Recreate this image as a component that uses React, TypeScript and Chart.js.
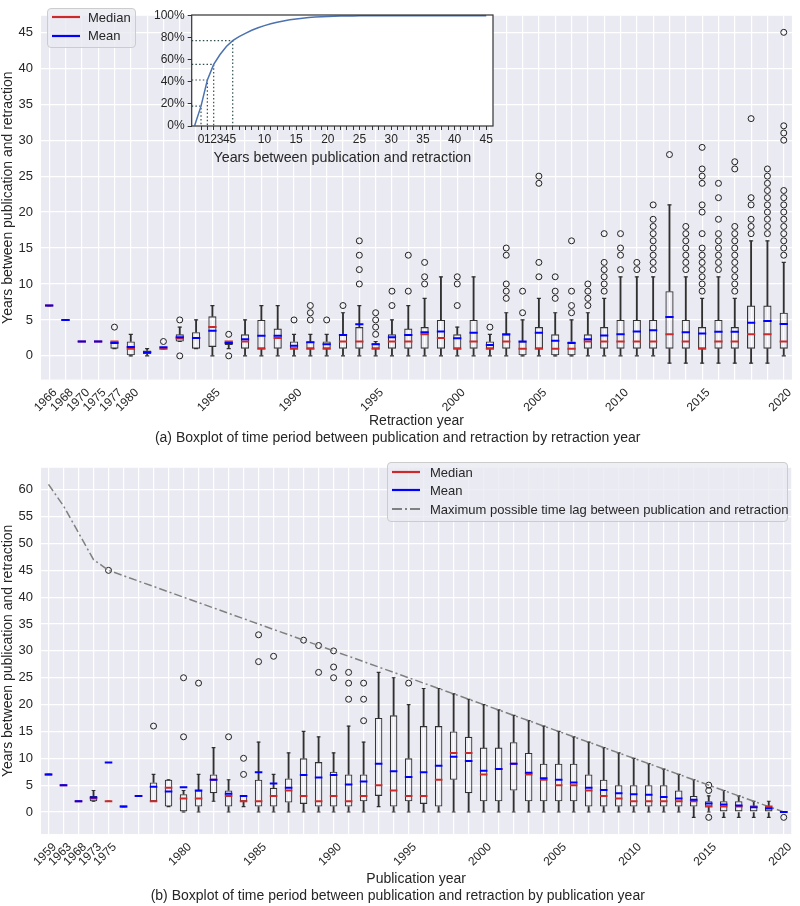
import React, { useEffect, useRef } from "react";
import { Chart, registerables } from "chart.js";

Chart.register(...registerables);

const FONT = "'Liberation Sans', Arial, Helvetica, sans-serif";
const TEXT = "#262626";
const MEDIAN_COLOR = "#cc2a2a";
const MEAN_COLOR = "#0000ff";
const BOX_COLOR = "#303030";
const MAXLAG_COLOR = "#808080";

// ---------------- (a) by retraction year ----------------
const retYears = [
  "1966", "1968", "1970", "1975", "1977", "1980", "1981", "1982", "1983", "1984",
  "1985", "1986", "1987", "1988", "1989", "1990", "1991", "1992", "1993", "1994",
  "1995", "1996", "1997", "1998", "1999", "2000", "2001", "2002", "2003", "2004",
  "2005", "2006", "2007", "2008", "2009", "2010", "2011", "2012", "2013", "2014",
  "2015", "2016", "2017", "2018", "2019", "2020",
];
const retTickLabels = [
  "1966", "1968", "1970", "1975", "1977", "1980", "1985", "1990", "1995", "2000",
  "2005", "2010", "2015", "2020",
];
const retLow = [
  7, 5, 2, 2, 1, 0, 0, 1, 2, 1,
  0, 1, 0, 0, 0, 0, 0, 0, 0, 0,
  0, 0, 0, 0, 0, 0, 0, 0, 0, 0,
  0, 0, 0, 0, 0, 0, 0, 0, -1, -1,
  -1, -1, -1, -1, -1, 0,
];
const retQ1 = [
  7, 5, 2, 2, 1, 0, 0.25, 1, 2, 1,
  1.25, 1.5, 1, 1, 1, 1, 1, 1, 1, 1,
  1, 1, 1, 1, 1, 1, 1, 1, 1, 0,
  1, 0, 0, 1, 1, 1, 1, 1, 1, 1,
  1, 1, 1, 1, 1, 1,
];
const retMedian = [
  7, 5, 2, 2, 2, 1, 0.5, 1, 2.4, 2.5,
  4, 2, 2, 1, 2.5, 1, 1, 1, 2, 2,
  1, 2, 2, 3, 2.5, 1, 2, 1, 2, 1,
  1, 1, 1, 2, 2, 2, 2, 2, 3, 2,
  1, 2, 2, 3, 3, 2,
];
const retQ3 = [
  7, 5, 2, 2, 2, 2, 0.75, 1, 3, 3.3,
  5.5, 2, 3, 5, 3.8, 2, 2, 2, 3, 4,
  1.75, 3, 3.8, 4, 5, 3, 5, 2, 3, 2,
  4, 3, 2, 3, 4, 5, 5, 5, 9, 5,
  4, 5, 4, 7, 7, 6,
];
const retHigh = [
  7, 5, 2, 2, 2, 3, 1, 1, 4, 5,
  7, 2, 5, 7, 7, 3, 3, 3, 6, 7,
  2, 5, 7, 8, 11, 4, 11, 3, 6, 5,
  8, 6, 5, 6, 8, 11, 11, 11, 21, 11,
  8, 11, 8, 16, 16, 13,
];
const retMean = [
  7, 5, 2, 2, 1.8, 1.25, 0.5, 1.2, 2.6, 2.5,
  3.5, 1.8, 2.3, 2.8, 2.8, 1.4, 1.9, 1.6, 2.9, 4.4,
  1.6, 2.6, 2.9, 3.3, 3.4, 2.45, 3.2, 1.5, 3.0, 2.0,
  3.2, 2.1, 1.8, 2.3, 2.85, 3.0, 3.4, 3.55, 5.4, 3.3,
  3.1, 3.35, 3.35, 4.6, 4.85, 4.45,
];
const retOutliers: number[][] = [
  [], [], [], [], [4], [], [], [2], [5, 0], [],
  [], [3, 0], [], [], [], [5], [5, 6, 7], [5], [7], [10, 12, 14, 16],
  [3, 4, 5, 6], [7, 9], [9, 14], [10, 11, 13], [], [7, 10, 11], [], [4], [8, 9, 10, 14, 15], [6, 9],
  [11, 13, 24, 25], [8, 9, 11], [6, 7, 9, 16], [7, 8, 9, 10], [9, 10, 11, 12, 13, 17],
  [12, 14, 15, 17], [12, 13], [12, 13, 14, 15, 16, 17, 18, 19, 21], [28], [12, 13, 14, 15, 16, 17, 18],
  [9, 10, 11, 12, 13, 14, 15, 17, 20, 21, 24, 25, 26, 29],
  [12, 13, 14, 15, 16, 17, 19, 22, 24],
  [9, 10, 11, 12, 13, 14, 15, 16, 17, 18, 26, 27],
  [17, 18, 19, 21, 22, 33],
  [17, 18, 19, 20, 21, 22, 23, 24, 25, 26],
  [14, 15, 16, 17, 18, 19, 20, 21, 22, 23, 30, 31, 32, 45],
];

// ---------------- inset: cumulative share ----------------
const cdfYears = [
  -1, 0, 1, 2, 3, 4, 5, 6, 7, 8, 9, 10, 11, 12, 13, 14, 15, 16, 17, 18, 19, 20,
  21, 22, 23, 24, 25, 26, 27, 28, 29, 30, 31, 32, 33, 34, 35, 36, 37, 38, 39, 40,
  41, 42, 43, 44, 45,
];
const cdfShare = [
  0.004, 0.18, 0.417, 0.558, 0.648, 0.72, 0.773, 0.81, 0.84, 0.868, 0.89, 0.91,
  0.926, 0.94, 0.952, 0.962, 0.97, 0.977, 0.983, 0.987, 0.99, 0.993,
  0.995, 0.996, 0.997, 0.998, 0.9985, 0.999, 0.999, 0.9992, 0.9994, 0.9995, 0.9996, 0.9997, 0.9998, 0.9998, 0.9999, 0.9999, 0.9999, 1, 1, 1,
  1, 1, 1, 1, 1,
];
const refYears = [0, 1, 2, 5];
const insetTickLabels = [0, 1, 2, 3, 4, 5, 10, 15, 20, 25, 30, 35, 40, 45];

// ---------------- (b) by publication year ----------------
const pubYears = [
  "1959", "1963", "1968", "1973", "1975", "1976", "1977", "1978", "1979", "1980",
  "1981", "1982", "1983", "1984", "1985", "1986", "1987", "1988", "1989", "1990",
  "1991", "1992", "1993", "1994", "1995", "1996", "1997", "1998", "1999", "2000",
  "2001", "2002", "2003", "2004", "2005", "2006", "2007", "2008", "2009", "2010",
  "2011", "2012", "2013", "2014", "2015", "2016", "2017", "2018", "2019", "2020",
];
const pubTickLabels = [
  "1959", "1963", "1968", "1973", "1975", "1980", "1985", "1990", "1995", "2000",
  "2005", "2010", "2015", "2020",
];
const pubLow = [
  7, 5, 2, 2, 2, 1, 3, 2, 1, 0,
  0, 2, 0, 1, 0, 0, 0, 0, 0, 0,
  0, 0, 1, 0, 0, 0, 0, 0, 0, 0,
  0, 0, 0, 0, 0, 0, 0, 0, 0, 0,
  0, 0, 0, -1, 0, -1, -1, -1, -1, 0,
];
const pubQ1 = [
  7, 5, 2, 2, 2, 1, 3, 2, 1, 0,
  1, 3.5, 1, 2, 1, 1, 1.75, 1.5, 1, 1,
  1, 2, 3, 1, 2, 1.5, 1, 6, 3.5, 2,
  2, 4, 2, 2, 2, 2, 1, 1, 1, 1,
  1, 1, 1, 1, 1, 0, 0, 0, 0, 0,
];
const pubMedian = [
  7, 5, 2, 2.5, 2, 1, 3, 2, 4.5, 2.5,
  2.5, 6, 3, 2, 2, 3, 4, 3, 2, 3,
  2, 3, 5, 4, 3, 3, 6, 11, 11, 7,
  8, 9, 7, 6, 5, 5, 4, 3, 2.5, 2,
  2, 2, 2, 2, 1, 1, 1, 1, 1, 0,
];
const pubQ3 = [
  7, 5, 2, 3, 2, 1, 3, 5.5, 6, 3.3,
  4, 7, 4, 3, 6, 4.5, 6.25, 10, 9.3, 7.5,
  7, 7, 17.5, 18, 10, 16, 16, 15, 14, 12,
  12, 13, 11, 9, 9, 9, 7, 6, 5, 5,
  5, 5, 4, 3, 2, 2, 2, 1, 1, 0,
];
const pubHigh = [
  7, 5, 2, 4, 2, 1, 3, 7, 6, 4,
  7, 12, 6, 3, 13, 7, 11, 15, 14, 11,
  16, 13, 26, 25, 20, 23, 23, 22, 21, 20,
  19, 18, 17, 16, 15, 14, 13, 12, 11, 10,
  9, 8, 7, 6, 3, 4, 3, 2, 2, 0,
];
const pubMean = [
  7, 5, 2, 2.7, 9.2, 1, 3, 4.7, 3.8, 4.6,
  4, 6, 3.4, 3, 7.4, 5.3, 4.5, 6.9, 6.4, 6.9,
  5.1, 5.7, 9, 7.6, 6.5, 7.4, 8.6, 10.3, 9.5, 7.7,
  8, 9, 7.3, 6.3, 6, 5.5, 4.5, 4.1, 3.5, 3.3,
  3.2, 2.8, 2.5, 2.3, 1.6, 1.4, 1.2, 0.9, 0.65, 0,
];
const pubOutliers: number[][] = [
  [], [], [], [], [45], [], [], [16], [], [14, 25],
  [24], [], [14], [7, 10], [28, 33], [29], [], [32], [26, 31], [25, 27, 30],
  [21, 24, 26], [17, 21, 24], [], [], [24], [], [], [], [], [],
  [], [], [], [], [], [], [], [], [], [],
  [], [], [], [], [-1, 4, 5], [], [], [], [], [-1],
];
const pubMaxLag = [
  61, 57, 52, 47, 45, 44, 43, 42, 41, 40,
  39, 38, 37, 36, 35, 34, 33, 32, 31, 30,
  29, 28, 27, 26, 25, 24, 23, 22, 21, 20,
  19, 18, 17, 16, 15, 14, 13, 12, 11, 10,
  9, 8, 7, 6, 5, 4, 3, 2, 1, 0,
];

const yTicksA = [0, 5, 10, 15, 20, 25, 30, 35, 40, 45];
const yTicksB = [0, 5, 10, 15, 20, 25, 30, 35, 40, 45, 50, 55, 60];

// --------------- plugins ---------------
const areaBg = {
  id: "areaBg",
  beforeDraw(chart: any, _a: any, opts: any) {
    const { ctx, chartArea: a } = chart;
    ctx.save();
    ctx.fillStyle = opts.color || "#eaeaf2";
    ctx.fillRect(a.left, a.top, a.right - a.left, a.bottom - a.top);
    ctx.restore();
  },
  afterDraw(chart: any, _a: any, opts: any) {
    if (!opts.border) return;
    const { ctx, chartArea: a } = chart;
    ctx.save();
    ctx.strokeStyle = opts.border;
    ctx.lineWidth = 1.2;
    ctx.strokeRect(a.left, a.top, a.right - a.left, a.bottom - a.top);
    ctx.restore();
  },
};

function boxDatasets(
  labels: string[], lo: number[], q1: number[], med: number[], q3: number[],
  hi: number[], mean: number[], outl: number[][], half: number,
) {
  const outPts: any[] = [];
  outl.forEach((arr, i) => arr.forEach((y) => outPts.push({ x: labels[i], y })));
  return [
    {
      type: "bar", data: lo.map((v, i) => [v, q1[i]]), backgroundColor: BOX_COLOR,
      barThickness: 1.2, grouped: false, borderWidth: 0, order: 7,
    },
    {
      type: "bar", data: q3.map((v, i) => [v, hi[i]]), backgroundColor: BOX_COLOR,
      barThickness: 1.2, grouped: false, borderWidth: 0, order: 7,
    },
    {
      type: "bar", data: q1.map((v, i) => [v, q3[i]]), backgroundColor: "rgba(0,0,0,0)",
      borderColor: BOX_COLOR, borderWidth: 1.1, borderSkipped: false, grouped: false,
      barPercentage: 0.5, categoryPercentage: 1, order: 6,
    },
    {
      type: "line", data: lo, showLine: false, pointStyle: "line", pointRadius: half / 2,
      pointBorderColor: BOX_COLOR, pointBorderWidth: 1.2, order: 5,
    },
    {
      type: "line", data: hi, showLine: false, pointStyle: "line", pointRadius: half / 2,
      pointBorderColor: BOX_COLOR, pointBorderWidth: 1.2, order: 5,
    },
    {
      type: "line", data: outPts, showLine: false, pointStyle: "circle", pointRadius: 3,
      pointBorderColor: "#222", pointBackgroundColor: "rgba(0,0,0,0)", pointBorderWidth: 1, order: 3,
    },
    {
      type: "line", data: med, showLine: false, pointStyle: "line", pointRadius: half,
      pointBorderColor: MEDIAN_COLOR, pointBorderWidth: 2, order: 1,
    },
    {
      type: "line", data: mean, showLine: false, pointStyle: "line", pointRadius: half,
      pointBorderColor: MEAN_COLOR, pointBorderWidth: 2, order: 0,
    },
  ];
}

function mainConfig(cfg: any): any {
  return {
    type: "bar",
    data: { labels: cfg.labels, datasets: cfg.datasets },
    plugins: [areaBg],
    options: {
      responsive: false,
      animation: false,
      events: [],
      layout: { padding: cfg.padding },
      plugins: {
        legend: { display: false },
        tooltip: { enabled: false },
        areaBg: { color: "#eaeaf2" },
        title: {
          display: true, position: "bottom", text: cfg.caption, color: TEXT,
          font: { family: FONT, size: 14, weight: "normal" }, padding: cfg.captionPad,
        },
      },
      scales: {
        x: {
          type: "category", offset: true,
          grid: { color: "#ffffff", lineWidth: 1.2, offset: false, drawTicks: false },
          border: { display: false },
          ticks: {
            autoSkip: false, minRotation: 45, maxRotation: 45, padding: 6, labelOffset: 6,
            color: TEXT, font: { family: FONT, size: 12 },
            callback: (_v: any, i: number) =>
              cfg.shown.includes(cfg.labels[i]) ? cfg.labels[i] : "",
          },
          title: {
            display: true, text: cfg.xTitle, color: TEXT,
            font: { family: FONT, size: 14 }, padding: { top: 0, bottom: 0 },
          },
          afterFit: (s: any) => { s.height = cfg.xHeight; },
        },
        y: {
          min: cfg.yMin, max: cfg.yMax,
          grid: { color: "#ffffff", lineWidth: 1.2, drawTicks: false },
          border: { display: false },
          ticks: { padding: 8, color: TEXT, font: { family: FONT, size: 13 } },
          afterBuildTicks: (s: any) => { s.ticks = cfg.yTicks.map((v: number) => ({ value: v })); },
          title: {
            display: true, text: "Years between publication and retraction", color: TEXT,
            font: { family: FONT, size: 14 }, padding: { top: 0, bottom: 0 },
          },
          afterFit: (s: any) => { s.width = 41; },
        },
      },
    },
  };
}

function ChartCanvas({ left, top, width, height, make }: any) {
  const ref = useRef<HTMLCanvasElement>(null);
  useEffect(() => {
    const chart = new Chart(ref.current as HTMLCanvasElement, make());
    return () => chart.destroy();
  }, []);
  return (
    <canvas
      ref={ref}
      width={width}
      height={height}
      style={{ position: "absolute", left, top, width, height, display: "block" }}
    />
  );
}

function makeTop() {
  return mainConfig({
    labels: retYears,
    shown: retTickLabels,
    datasets: boxDatasets(retYears, retLow, retQ1, retMedian, retQ3, retHigh, retMean, retOutliers, 4.1),
    padding: { left: 0, right: 4.6, top: 2, bottom: 0 },
    caption: "(a) Boxplot of time period between publication and retraction by retraction year",
    captionPad: { top: 0, bottom: 5.6 },
    xTitle: "Retraction year",
    xHeight: 50,
    yMin: -3.3, yMax: 47.3, yTicks: yTicksA,
  });
}

function makeBottom() {
  const ds: any[] = boxDatasets(pubYears, pubLow, pubQ1, pubMedian, pubQ3, pubHigh, pubMean, pubOutliers, 3.77);
  ds.push({
    type: "line", data: pubMaxLag, borderColor: MAXLAG_COLOR, borderWidth: 1.5,
    borderDash: [8, 3, 2, 3], pointRadius: 0, fill: false, tension: 0, order: 2,
  });
  return mainConfig({
    labels: pubYears,
    shown: pubTickLabels,
    datasets: ds,
    padding: { left: 0, right: 4.5, top: 4.7, bottom: 0 },
    caption: "(b) Boxplot of time period between publication and retraction by publication year",
    captionPad: { top: 0, bottom: 1.6 },
    xTitle: "Publication year",
    xHeight: 53.6,
    yMin: -4.1, yMax: 64.1, yTicks: yTicksB,
  });
}

function makeInset(): any {
  const curve = cdfYears.map((x, i) => ({ x, y: cdfShare[i] }));
  const xMin = -1.47;
  const refSets = refYears.map((k) => {
    const c = cdfShare[cdfYears.indexOf(k)];
    return {
      data: [{ x: xMin, y: c }, { x: k, y: c }, { x: k, y: 0 }],
      borderColor: "#2f4f4f", borderWidth: 1.2, borderDash: [1.5, 2.2],
      pointRadius: 0, tension: 0, order: 2,
    };
  });
  return {
    type: "line",
    data: {
      datasets: [
        { data: curve, borderColor: "#4c72b0", borderWidth: 1.5, pointRadius: 0, tension: 0, order: 0 },
        ...refSets,
      ],
    },
    plugins: [areaBg],
    options: {
      responsive: false,
      animation: false,
      events: [],
      layout: { padding: { left: 0, top: 15, right: 17, bottom: 0 } },
      plugins: {
        legend: { display: false },
        tooltip: { enabled: false },
        areaBg: { color: "#ffffff", border: "#333333" },
      },
      scales: {
        x: {
          type: "linear", min: xMin, max: 46.06,
          grid: { drawOnChartArea: false, drawTicks: true, tickLength: 4, tickColor: "#333", tickWidth: 1 },
          border: { display: false },
          afterBuildTicks: (s: any) => { s.ticks = cdfYears.filter((v) => v >= 0).map((v) => ({ value: v })); },
          ticks: {
            autoSkip: false, maxRotation: 0, minRotation: 0, padding: 2, color: TEXT,
            font: { family: FONT, size: 12 },
            callback: (v: any) => (insetTickLabels.includes(v) ? String(v) : ""),
          },
          title: {
            display: true, text: "Years between publication and retraction", color: TEXT,
            font: { family: FONT, size: 14.3 }, padding: { top: 0, bottom: 1.5 },
          },
          afterFit: (s: any) => { s.height = 42; },
        },
        y: {
          min: 0, max: 1.006,
          grid: { drawOnChartArea: false, drawTicks: true, tickLength: 4, tickColor: "#333", tickWidth: 1 },
          border: { display: false },
          afterBuildTicks: (s: any) => { s.ticks = [0, 0.2, 0.4, 0.6, 0.8, 1].map((v) => ({ value: v })); },
          ticks: {
            padding: 3, color: TEXT, font: { family: FONT, size: 12 },
            callback: (v: any) => Math.round(v * 100) + "%",
          },
          afterFit: (s: any) => { s.width = 51.7; },
        },
      },
    },
  };
}

function Swatch({ color, dash }: any) {
  return (
    <svg width={28} height={8} style={{ display: "block", flex: "none" }}>
      <line x1={0} y1={4} x2={28} y2={4} stroke={color} strokeWidth={2.2} strokeDasharray={dash} />
    </svg>
  );
}

function Legend({ left, top, width, height, rows, gap }: any) {
  return (
    <div
      style={{
        position: "absolute", left, top, width, height, boxSizing: "border-box",
        background: "rgba(234,234,242,0.8)", border: "1px solid #cccccc", borderRadius: 4,
        fontFamily: FONT, fontSize: 13, color: TEXT,
      }}
    >
      {rows.map((r: any, i: number) => (
        <div
          key={i}
          style={{
            position: "absolute", left: 4, top: r.cy - top - 1 - 9, height: 18,
            display: "flex", alignItems: "center", whiteSpace: "nowrap",
          }}
        >
          <Swatch color={r.color} dash={r.dash} />
          <span style={{ marginLeft: gap }}>{r.label}</span>
        </div>
      ))}
    </div>
  );
}

export default function App() {
  return (
    <div style={{ position: "absolute", left: 0, top: 0, width: 800, height: 906, background: "#ffffff", overflow: "hidden" }}>
      <ChartCanvas left={0} top={0} width={800} height={452} make={makeTop} />
      <ChartCanvas left={140} top={0} width={370} height={168} make={makeInset} />
      <Legend
        left={47} top={8} width={89} height={40} gap={8}
        rows={[
          { label: "Median", color: MEDIAN_COLOR, cy: 17.3 },
          { label: "Mean", color: MEAN_COLOR, cy: 35.7 },
        ]}
      />
      <ChartCanvas left={0} top={452} width={800} height={454} make={makeBottom} />
      <Legend
        left={387} top={462} width={401} height={60} gap={10}
        rows={[
          { label: "Median", color: MEDIAN_COLOR, cy: 472 },
          { label: "Mean", color: MEAN_COLOR, cy: 490.3 },
          { label: "Maximum possible time lag between publication and retraction", color: MAXLAG_COLOR, dash: "10 3 2 3", cy: 509 },
        ]}
      />
    </div>
  );
}
